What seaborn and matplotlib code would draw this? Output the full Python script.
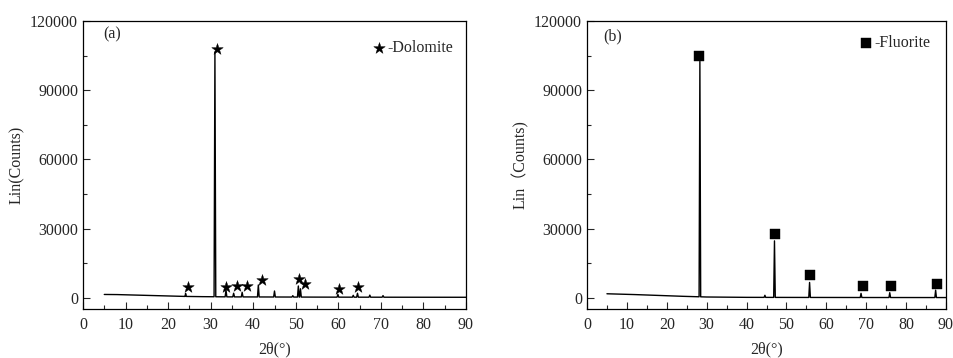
import numpy as np
import pandas as pd
import seaborn as sns
import matplotlib
matplotlib.use("Agg")
import matplotlib.pyplot as plt

# ---- data ----
# (a) dolomite: background points and peaks (2theta, counts)
bg_a_x = [5, 8, 12, 16, 20, 24, 28, 35, 45, 55, 65, 75, 90]
bg_a_y = [1500, 1450, 1250, 1050, 850, 650, 550, 450, 400, 350, 320, 300, 280]
peak_a_x = [24.1, 31.0, 33.6, 35.4, 37.4, 41.2, 45.0, 49.3, 50.6, 51.1, 59.9, 63.5, 64.5, 67.4, 70.5]
peak_a_h = [1300, 106000, 3000, 1600, 2000, 5200, 2600, 600, 4800, 3600, 1200, 800, 1700, 900, 700]
star_x = [24.7, 31.4, 33.6, 36.2, 38.5, 42.1, 50.7, 52.2, 60.2, 64.7]
star_y = [4600, 107900, 4600, 5200, 5200, 7800, 8400, 6200, 4000, 4600]

# (b) fluorite
bg_b_x = [5, 8, 12, 16, 20, 24, 27, 30, 40, 50, 60, 70, 80, 90]
bg_b_y = [1800, 1650, 1450, 1200, 950, 700, 550, 400, 250, 220, 200, 180, 170, 160]
peak_b_x = [28.3, 44.6, 47.0, 55.8, 68.7, 75.9, 87.4]
peak_b_h = [102000, 900, 24500, 6500, 1800, 2100, 3200]
square_x = [28.1, 47.1, 55.9, 69.1, 76.1, 87.8]
square_y = [104700, 27600, 9800, 5100, 5100, 6100]

ticks_x = [0, 10, 20, 30, 40, 50, 60, 70, 80, 90]
ticks_y = [0, 30000, 60000, 90000, 120000]


def pattern(bx, by, px, ph, w=0.2):
    # piecewise profile: background plus a triangle at each peak
    xs = list(bx)
    for p in px:
        xs += [p - w, p, p + w]
    xs = np.array(sorted(xs))
    ys = np.interp(xs, bx, by)
    for p, h in zip(px, ph):
        ys[xs == p] += h
    return pd.DataFrame({"2theta": xs, "counts": ys})


sns.set_style("ticks")
plt.rcParams["font.family"] = ["Liberation Serif", "Noto Sans CJK SC"]
plt.rcParams["font.size"] = 11

fig = plt.figure(figsize=(9.54, 3.58), dpi=100)
ax1 = fig.add_axes([83 / 954, 1 - 309 / 358, 383 / 954, 288 / 358])
ax2 = fig.add_axes([587 / 954, 1 - 309 / 358, 359 / 954, 288 / 358])

panels = [
    (ax1, pattern(bg_a_x, bg_a_y, peak_a_x, peak_a_h), star_x, star_y, "*", 75,
     "-Dolomite", (0.982, 0.955), "(a)", 0.052, 0.955, "Lin(Counts)"),
    (ax2, pattern(bg_b_x, bg_b_y, peak_b_x, peak_b_h), square_x, square_y, "s", 50,
     "-Fluorite", (0.973, 0.972), "(b)", 0.045, 0.947, "Lin（Counts)"),
]

for ax, df, mx, my, mk, ms, lab, lpos, tag, tx, ty, ylab in panels:
    sns.lineplot(data=df, x="2theta", y="counts", ax=ax, color="black",
                 linewidth=1.0, estimator=None, sort=False)
    sns.scatterplot(x=mx, y=my, ax=ax, marker=mk, s=ms, color="black",
                    edgecolor="black", linewidth=0.3, label=lab, zorder=3)
    ax.set_xlim(0, 90)
    ax.set_ylim(-4800, 120000)
    ax.set_xticks(ticks_x)
    ax.set_yticks(ticks_y)
    ax.set_xticks(np.arange(5, 90, 10), minor=True)
    ax.set_yticks([15000, 45000, 75000, 105000], minor=True)
    ax.tick_params(which="both", direction="in", top=False, right=False,
                   labelsize=11.5, width=0.8)
    ax.tick_params(which="major", length=5)
    ax.tick_params(which="minor", length=3)
    ax.tick_params(axis="x", which="major", pad=5.5)
    for s in ax.spines.values():
        s.set_linewidth(0.9)
        s.set_color("black")
    ax.set_xlabel("2θ(°)", fontsize=11.5, labelpad=6.5)
    ax.set_ylabel(ylab, fontsize=11.5, labelpad=4)
    ax.text(tx, ty, tag, transform=ax.transAxes, fontsize=11.5,
            ha="left", va="center")
    ax.legend(loc="upper right", bbox_to_anchor=lpos, borderaxespad=0,
              frameon=False, handletextpad=-0.5, fontsize=11.5)

fig.savefig("out.png", dpi=100)
